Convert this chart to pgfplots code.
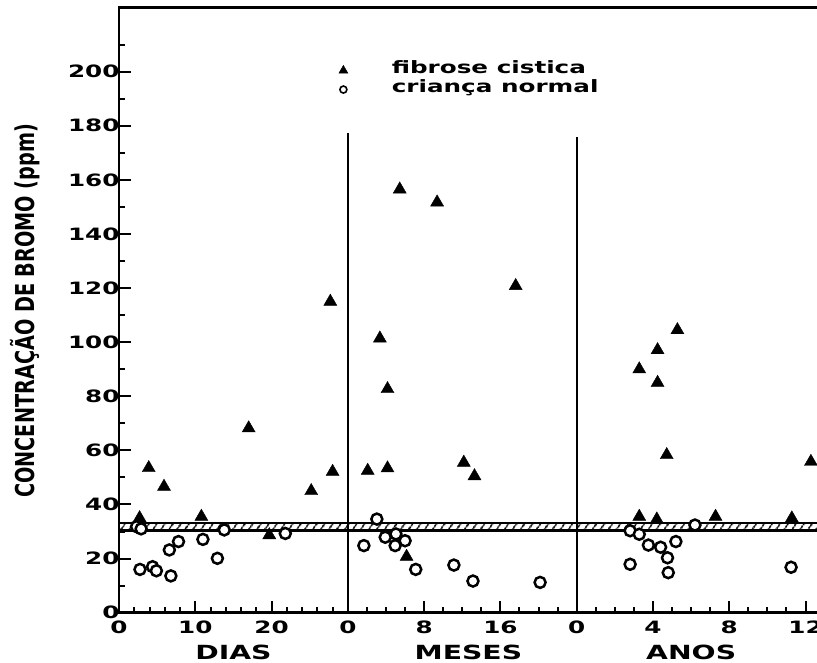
\documentclass[border=0pt]{standalone}
\usepackage{fontspec}
\setmainfont{DejaVu Sans}
\newfontfamily\widefont[FakeStretch=1.45]{DejaVu Sans}
\newfontfamily\condfont[FakeStretch=0.74]{DejaVu Sans}
\usepackage{pgfplots}
\pgfplotsset{compat=1.18}
\usetikzlibrary{patterns.meta,calc}

% fibrose cistica (triangles); x in unified units: days d -> d ; months m -> 30+1.25m ; years y -> 60+2.5y
\pgfplotstableread{
x y
2.7 35.0
3.9 53.5
5.9 46.6
10.8 35.5
17.0 68.2
19.7 28.7
25.2 45.0
27.7 115.0
28.0 52.1
32.6 52.5
35.2 53.4
34.2 101.4
35.2 82.7
36.8 156.5
41.7 151.7
52.0 120.8
45.2 55.5
46.6 50.5
37.7 20.7
68.2 35.5
70.5 34.5
78.2 35.5
88.2 34.9
71.8 58.3
90.7 55.8
73.2 104.5
70.6 97.1
68.2 90.0
70.6 85.0
}\fibrose

% crianca normal (circles)
\pgfplotstableread{
x y
2.3 31.8
2.9 31.0
2.75 16.0
4.4 17.0
4.9 15.5
6.8 13.6
6.6 23.2
7.8 26.3
11.0 27.1
12.9 20.1
13.8 30.6
21.8 29.3
33.8 34.6
32.1 24.8
34.9 27.9
36.3 29.1
37.5 26.6
36.2 24.8
38.9 16.0
43.9 17.6
46.4 11.7
55.2 11.2
67.0 30.3
68.2 29.0
69.4 25.0
71.0 24.2
73.0 26.3
71.9 20.3
72.0 14.8
67.0 17.9
75.5 32.4
88.1 16.8
}\normal

\begin{document}
\begin{tikzpicture}
\useasboundingbox (-119pt,-50.3pt) rectangle (698pt,612.7pt);
\begin{axis}[
  at={(0pt,0pt)}, anchor=south west,
  scale only axis, width=698pt, height=605.4pt,
  xmin=0, xmax=91.5, ymin=0, ymax=223.8,
  axis line style={draw=none},
  tick align=inside,
  xtick pos=bottom, ytick pos=left,
  xtick={0,10,...,90},
  xticklabels={0,10,20,0,8,16,0,4,8,12},
  minor xtick={2,4,6,8,12,14,16,18,22,24,26,28,32.5,35,37.5,42.5,45,47.5,52.5,55,57.5,62.5,65,67.5,72.5,75,77.5,82.5,85,87.5},
  ytick={0,20,...,200},
  yticklabels={0,20,40,60,80,100,120,140,160,180,200},
  minor ytick={10,30,...,210},
  major tick length=12pt, minor tick length=6pt,
  every tick/.style={black, line width=2pt},
  ticklabel style={font=\widefont\bfseries\fontsize{17}{19}\selectfont},
  xticklabel style={yshift=-5pt},
  yticklabel style={xshift=4pt},
  clip=false,
  legend style={at={(axis cs:28.8,204.0)}, anchor=north west, draw=none, fill=none,
    inner sep=0pt, row sep=0pt,
    nodes={inner sep=0pt, text height=12pt, text depth=7pt},
    font=\widefont\bfseries\fontsize{17}{19}\selectfont,
    cells={anchor=west}},
]
% hatched reference band
\fill[white] (axis cs:0,30.3) rectangle (axis cs:91.5,33.3);
\fill[pattern={Lines[angle=55,distance=6.5pt,line width=1.8pt]}] (axis cs:0,30.6) rectangle (axis cs:91.5,33.0);
\draw[line width=1.8pt] (axis cs:0,33.2) -- (axis cs:91.5,33.2);
\draw[line width=2.6pt] (axis cs:0,30.3) -- (axis cs:91.5,30.3);
% panel separators
\draw[line width=2pt] (axis cs:30,0) -- (axis cs:30,177.2);
\draw[line width=2pt] (axis cs:60,0) -- (axis cs:60,176.0);
% frame
\draw[line width=2.6pt] (axis cs:91.5,223.8) -- (axis cs:0,223.8) -- (axis cs:0,0) -- (axis cs:91.5,0);

\addplot[only marks, mark=triangle*, mark size=7.5pt, black, fill=black,
  legend image code/.code={\path[draw=none,fill=none] (0pt,0pt) -- (48.4pt,0pt);
    \path[draw=black, fill=black] plot[mark=triangle*, mark size=5.2pt] coordinates {(0pt,0pt)};}]
  table[x=x,y=y] {\fibrose};
\addlegendentry{fibrose cistica}
\addplot[only marks, mark=*, mark size=5.5pt, line width=2.5pt, draw=black, fill=white,
  legend image code/.code={\path[draw=none,fill=none] (0pt,0pt) -- (48.4pt,0pt);
    \path[draw=black, fill=white, line width=1.6pt] plot[mark=*, mark size=3.5pt] coordinates {(0pt,0pt)};}]
  table[x=x,y=y] {\normal};
\addlegendentry{criança normal}

\node[font=\widefont\bfseries\fontsize{19.5}{21}\selectfont] at ($(axis cs:15,0)+(0,-39.3pt)$) {DIAS};
\node[font=\widefont\bfseries\fontsize{19.5}{21}\selectfont] at ($(axis cs:45.8,0)+(0,-39.3pt)$) {MESES};
\node[font=\widefont\bfseries\fontsize{19.5}{21}\selectfont] at ($(axis cs:75,0)+(0,-39.3pt)$) {ANOS};
\node[rotate=90, anchor=base, font=\condfont\bfseries\fontsize{26}{28}\selectfont]
  at ($(axis cs:0,111.6)+(-84pt,0)$) {CONCENTRAÇÃO DE BROMO (ppm)};
\end{axis}
\end{tikzpicture}
\end{document}
